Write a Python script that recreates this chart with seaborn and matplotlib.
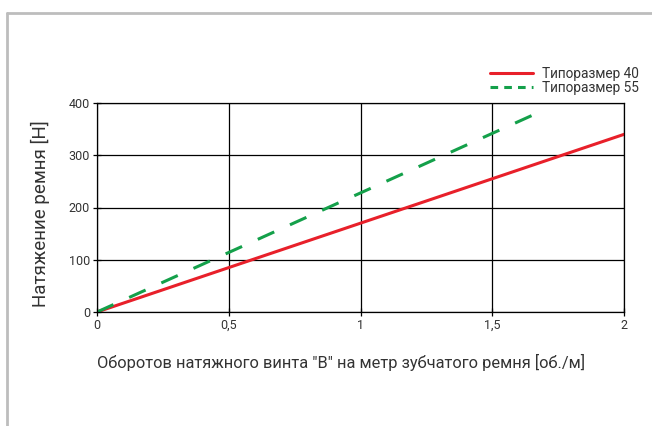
import matplotlib
matplotlib.use("Agg")
import matplotlib.pyplot as plt
import seaborn as sns
import pandas as pd
from matplotlib.lines import Line2D

sns.set_style("white")
FAM = ['Roboto', 'DejaVu Sans']
plt.rcParams['font.family'] = FAM

series_names = ["Типоразмер 40", "Типоразмер 55"]
x40 = [0.0, 2.0]
y40 = [0.0, 340.0]
x55 = [0.0, 1.65]
y55 = [0.0, 376.0]
x_ticks = [0, 0.5, 1, 1.5, 2]
x_ticklabels = ["0", "0,5", "1", "1,5", "2"]
y_ticks = [0, 100, 200, 300, 400]
y_ticklabels = ["0", "100", "200", "300", "400"]
x_label = 'Оборотов натяжного винта "B" на метр зубчатого ремня [об./м]'
y_label = "Натяжение ремня [Н]"

df = pd.DataFrame({
    "x": x40 + x55,
    "y": y40 + y55,
    "s": [series_names[0]] * len(x40) + [series_names[1]] * len(x55),
})

colors = {series_names[0]: "#e8202a", series_names[1]: "#14a04a"}

fig = plt.figure(figsize=(6.52, 4.26), dpi=100)
ax = fig.add_axes([97 / 652, 1 - 312 / 426, (624 - 97) / 652, (312 - 103) / 426])

sns.lineplot(data=df, x="x", y="y", hue="s", style="s", palette=colors,
             dashes={series_names[0]: "", series_names[1]: (5.9, 5.65)},
             linewidth=2.2, ax=ax, legend=False)

ax.set_xlim(0, 2)
ax.set_ylim(0, 400)
ax.set_xticks(x_ticks)
ax.set_xticklabels(x_ticklabels)
ax.set_yticks(y_ticks)
ax.set_yticklabels(y_ticklabels)
ax.grid(True, color="black", linewidth=0.9)
ax.set_axisbelow(True)
for sp in ax.spines.values():
    sp.set_visible(True)
    sp.set_color('black')
    sp.set_linewidth(0.9)
ax.tick_params(axis='both', direction='inout', length=6, width=0.9, colors='black',
               labelsize=9, pad=2, left=True, bottom=True)
ax.set_xlabel("")
ax.set_ylabel("")
for lab in ax.get_xticklabels() + ax.get_yticklabels():
    lab.set_color("#333333")

fig.text(97 / 652, 1 - 362 / 426, x_label, ha='left', va='center', fontsize=11.8, color="#333333")
fig.text(40 / 652, 1 - 214 / 426, y_label, ha='center', va='center', rotation=90,
         fontsize=13.5, color="#333333")

handles = [Line2D([0], [0], color=colors[series_names[0]], lw=2.2),
           Line2D([0], [0], color=colors[series_names[1]], lw=2.2, dashes=(2.5, 2.0))]
fig.legend(handles, series_names, loc='upper right', bbox_to_anchor=(648 / 652, 1 - 57 / 426),
           frameon=False, fontsize=9.8, handlelength=3.2, handletextpad=0.6,
           labelspacing=0.05, borderpad=0.2, labelcolor="#333333")

# grey frame
fig.add_artist(Line2D([7 / 652, 7 / 652], [0, 1 - 13 / 426], transform=fig.transFigure,
                      color="#bdbdbd", lw=2))
fig.add_artist(Line2D([7 / 652, 1], [1 - 13 / 426, 1 - 13 / 426], transform=fig.transFigure,
                      color="#bdbdbd", lw=2))

fig.savefig("out.png", dpi=100)
